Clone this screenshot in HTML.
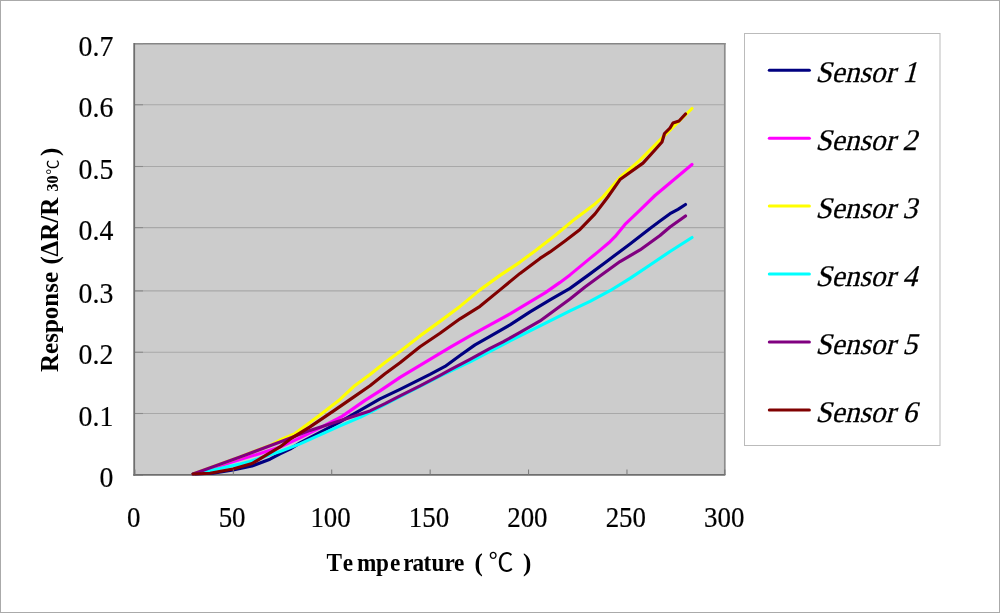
<!DOCTYPE html>
<html lang="en"><head><meta charset="utf-8"><title>Sensor response vs temperature</title>
<style>html,body{margin:0;padding:0;background:#fff}body{width:1000px;height:613px;overflow:hidden}svg{display:block}text{font-family:"Liberation Serif","Noto Sans CJK TC",serif;fill:#000}.tk{font-size:29.4px;stroke:#000;stroke-width:0.2px}.b{font-weight:bold;font-size:25px}.lg{font-size:30px}.cj{font-family:"Noto Sans CJK TC","Liberation Serif",sans-serif;font-weight:normal}</style></head><body>
<svg width="1000" height="613" viewBox="0 0 1000 613">
<rect x="0" y="0" width="1000" height="613" fill="#fff"/>
<rect x="0.5" y="0.5" width="999" height="612" fill="none" stroke="#aaa" stroke-width="1"/>
<rect x="134.2" y="43.6" width="590.5" height="431.4" fill="#cccccc"/>
<line x1="134.2" y1="413.50" x2="724.7" y2="413.50" stroke="#a8a8a8" stroke-width="1.1"/>
<line x1="134.2" y1="352.25" x2="724.7" y2="352.25" stroke="#a8a8a8" stroke-width="1.1"/>
<line x1="134.2" y1="290.90" x2="724.7" y2="290.90" stroke="#a8a8a8" stroke-width="1.1"/>
<line x1="134.2" y1="227.60" x2="724.7" y2="227.60" stroke="#a8a8a8" stroke-width="1.1"/>
<line x1="134.2" y1="166.50" x2="724.7" y2="166.50" stroke="#a8a8a8" stroke-width="1.1"/>
<line x1="134.2" y1="104.75" x2="724.7" y2="104.75" stroke="#a8a8a8" stroke-width="1.1"/>
<line x1="134.2" y1="43.7" x2="725.6" y2="43.7" stroke="#868686" stroke-width="1.4"/>
<line x1="724.8" y1="43" x2="724.8" y2="475.0" stroke="#8c8c8c" stroke-width="1.7"/>
<line x1="134.2" y1="475.00" x2="143.0" y2="475.00" stroke="#8c8c8c" stroke-width="1.1"/>
<line x1="134.2" y1="413.50" x2="143.0" y2="413.50" stroke="#8c8c8c" stroke-width="1.1"/>
<line x1="134.2" y1="352.25" x2="143.0" y2="352.25" stroke="#8c8c8c" stroke-width="1.1"/>
<line x1="134.2" y1="290.90" x2="143.0" y2="290.90" stroke="#8c8c8c" stroke-width="1.1"/>
<line x1="134.2" y1="227.60" x2="143.0" y2="227.60" stroke="#8c8c8c" stroke-width="1.1"/>
<line x1="134.2" y1="166.50" x2="143.0" y2="166.50" stroke="#8c8c8c" stroke-width="1.1"/>
<line x1="134.2" y1="104.75" x2="143.0" y2="104.75" stroke="#8c8c8c" stroke-width="1.1"/>
<line x1="134.2" y1="43.60" x2="143.0" y2="43.60" stroke="#8c8c8c" stroke-width="1.1"/>
<line x1="134.2" y1="43.1" x2="134.2" y2="475.85" stroke="#6e6e6e" stroke-width="1.8"/>
<line x1="133.29999999999998" y1="474.9" x2="725.3000000000001" y2="474.9" stroke="#6e6e6e" stroke-width="1.8"/>
<polyline points="193,474 213,473.3 233,470 252,466 270,459.23 280,453.95 290,449.18 300,442.9 320,432.4 340,421.9 360,410.4 380,398.9 400,389.4 420,379.4 430,374.4 445,366.4 460,355.4 475,344.9 490,336.4 510,324.9 530,311.9 550,299.9 570,288.4 590,273.9 605,262.71 620,251.44 630,243.96 650,228.4 660,221.1 670,213.7 678,209.3 685.5,204.5" fill="none" stroke="#000080" stroke-width="3.15" stroke-linejoin="round" stroke-linecap="round"/>
<polyline points="193,474 240,459.5 260,453.5 280,446.95 300,437.9 320,427.9 342,416.4 350,410.9 365,400.4 380,390.9 400,377.4 420,365.4 430,359.4 450,347.4 470,335.9 490,324.9 510,313.9 530,301.9 545,292.9 560,282.4 570,274.9 590,258.4 598,251.9 610,241.72 615,236.63 625,224.45 640,210.18 655,195.5 692,164.5" fill="none" stroke="#ff00ff" stroke-width="3.15" stroke-linejoin="round" stroke-linecap="round"/>
<polyline points="193,474 240,457 250,453 270,445.53 280,440.05 295,433.59 320,414.9 340,399.4 355,385.4 370,374.4 385,362.4 400,351.4 420,335.9 440,321.4 460,306.4 480,289.9 500,275.4 520,262.1 535,250.9 555,235.5 575,218.9 595,203.9 603,196.85 620,177.54 640,160.18 660,140 692,108.5" fill="none" stroke="#ffff00" stroke-width="3.15" stroke-linejoin="round" stroke-linecap="round"/>
<polyline points="193,474 220,468.5 240,464 250,461.5 270,454.73 280,451.45 300,443.9 320,434.9 340,425.9 360,417.4 370,412.4 385,404.3 400,396.5 420,386.4 440,376.1 450,371.3 470,361.9 490,351.4 510,340.9 530,330.9 550,320.9 570,310.9 590,301.4 610,290.72 630,278.36 650,265 670,251.5 692,237.5" fill="none" stroke="#00ffff" stroke-width="3.15" stroke-linejoin="round" stroke-linecap="round"/>
<polyline points="193,474 240,457 280,441.95 310,430.4 330,423.9 350,417.4 370,410.9 385,403.7 400,395.9 420,385.9 440,375.4 450,369.9 470,359.4 490,348.4 503,341.9 520,332.4 540,320.9 555,309.9 570,298.9 585,286.9 600,275.9 620,261.54 640,249.98 660,235.5 670,227 685.5,216" fill="none" stroke="#800080" stroke-width="3.15" stroke-linejoin="round" stroke-linecap="round"/>
<polyline points="193,474 210,473.2 233,469 252,463.5 280,446.95 290,439.18 310,426.9 334,410.6 355,396.1 370,385.8 385,373.8 400,362.8 420,346.8 440,333.3 460,318.8 480,306.3 500,289.9 520,273.4 540,258.4 550,251.9 565,240.9 580,229.4 595,213.9 605,200.81 608,196.76 620,179.54 643,163.13 654,151 662,142 664.5,133.5 670,128 673,123 679,121 685.5,114" fill="none" stroke="#800000" stroke-width="3.15" stroke-linejoin="round" stroke-linecap="round"/>
<line x1="134.90" y1="475.0" x2="134.90" y2="469.5" stroke="#777" stroke-width="1"/>
<line x1="233.32" y1="475.0" x2="233.32" y2="469.5" stroke="#777" stroke-width="1"/>
<line x1="331.73" y1="475.0" x2="331.73" y2="469.5" stroke="#777" stroke-width="1"/>
<line x1="430.15" y1="475.0" x2="430.15" y2="469.5" stroke="#777" stroke-width="1"/>
<line x1="528.57" y1="475.0" x2="528.57" y2="469.5" stroke="#777" stroke-width="1"/>
<line x1="626.98" y1="475.0" x2="626.98" y2="469.5" stroke="#777" stroke-width="1"/>
<line x1="724.80" y1="475.0" x2="724.80" y2="469.5" stroke="#777" stroke-width="1"/>
<text class="tk" transform="translate(113.3,487.20) scale(0.945,1)" text-anchor="end">0</text>
<text class="tk" transform="translate(113.3,425.70) scale(0.945,1)" text-anchor="end">0.1</text>
<text class="tk" transform="translate(113.3,364.45) scale(0.945,1)" text-anchor="end">0.2</text>
<text class="tk" transform="translate(113.3,303.10) scale(0.945,1)" text-anchor="end">0.3</text>
<text class="tk" transform="translate(113.3,239.80) scale(0.945,1)" text-anchor="end">0.4</text>
<text class="tk" transform="translate(113.3,178.70) scale(0.945,1)" text-anchor="end">0.5</text>
<text class="tk" transform="translate(113.3,116.95) scale(0.945,1)" text-anchor="end">0.6</text>
<text class="tk" transform="translate(113.3,55.80) scale(0.945,1)" text-anchor="end">0.7</text>
<text class="tk" transform="translate(133.70,526.8) scale(0.915,1)" text-anchor="middle">0</text>
<text class="tk" transform="translate(232.12,526.8) scale(0.915,1)" text-anchor="middle">50</text>
<text class="tk" transform="translate(330.53,526.8) scale(0.915,1)" text-anchor="middle">100</text>
<text class="tk" transform="translate(428.95,526.8) scale(0.915,1)" text-anchor="middle">150</text>
<text class="tk" transform="translate(527.37,526.8) scale(0.915,1)" text-anchor="middle">200</text>
<text class="tk" transform="translate(625.78,526.8) scale(0.915,1)" text-anchor="middle">250</text>
<text class="tk" transform="translate(724.20,526.8) scale(0.915,1)" text-anchor="middle">300</text>
<g transform="translate(326.4,570.8) scale(0.93,1)"><text class="b" y="0"><tspan x="0.00 17.53 32.80 53.23 68.39 82.58 92.47 104.52 113.12 126.99 137.20">Temperature</tspan></text></g>
<text class="b" y="570.8"><tspan x="474.6">(</tspan><tspan class="cj" x="488.5" font-size="25">℃</tspan><tspan x="522.9">)</tspan></text>
<g transform="translate(58.4,372) rotate(-90)"><text class="b" y="0"><tspan x="0">Response</tspan> <tspan x="107.5">(</tspan><tspan x="115.5">ΔR/R</tspan><tspan x="180.5" font-size="16">30</tspan><tspan class="cj" x="197.5" font-size="15">℃</tspan><tspan x="216">)</tspan></text></g>
<rect x="744.5" y="33.5" width="195.5" height="412" fill="#fff" stroke="#bbb" stroke-width="1"/>
<line x1="769.3" y1="70.20" x2="809.4" y2="70.20" stroke="#000080" stroke-width="3" stroke-linecap="round"/>
<text class="lg" transform="translate(815.2,82.00) scale(0.978,1) skewX(-15)" x="0" y="0" stroke="#000" stroke-width="0.25">Sensor 1</text>
<line x1="769.3" y1="138.14" x2="809.4" y2="138.14" stroke="#ff00ff" stroke-width="3" stroke-linecap="round"/>
<text class="lg" transform="translate(815.2,149.94) scale(0.978,1) skewX(-15)" x="0" y="0" stroke="#000" stroke-width="0.25">Sensor 2</text>
<line x1="769.3" y1="206.08" x2="809.4" y2="206.08" stroke="#ffff00" stroke-width="3" stroke-linecap="round"/>
<text class="lg" transform="translate(815.2,217.88) scale(0.978,1) skewX(-15)" x="0" y="0" stroke="#000" stroke-width="0.25">Sensor 3</text>
<line x1="769.3" y1="274.02" x2="809.4" y2="274.02" stroke="#00ffff" stroke-width="3" stroke-linecap="round"/>
<text class="lg" transform="translate(815.2,285.82) scale(0.978,1) skewX(-15)" x="0" y="0" stroke="#000" stroke-width="0.25">Sensor 4</text>
<line x1="769.3" y1="341.96" x2="809.4" y2="341.96" stroke="#800080" stroke-width="3" stroke-linecap="round"/>
<text class="lg" transform="translate(815.2,353.76) scale(0.978,1) skewX(-15)" x="0" y="0" stroke="#000" stroke-width="0.25">Sensor 5</text>
<line x1="769.3" y1="409.90" x2="809.4" y2="409.90" stroke="#800000" stroke-width="3" stroke-linecap="round"/>
<text class="lg" transform="translate(815.2,421.70) scale(0.978,1) skewX(-15)" x="0" y="0" stroke="#000" stroke-width="0.25">Sensor 6</text>
</svg></body></html>
